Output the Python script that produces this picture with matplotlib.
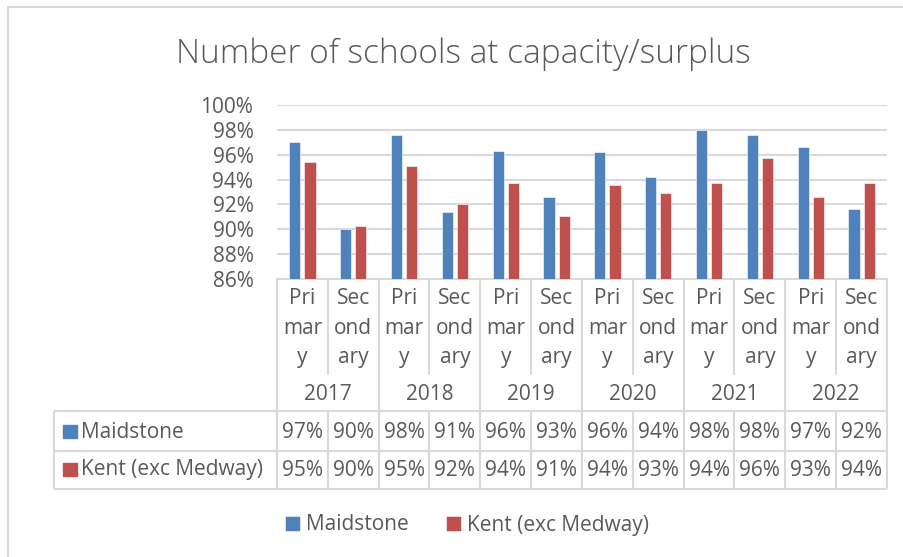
import matplotlib
matplotlib.use("Agg")
import matplotlib.pyplot as plt
from matplotlib.patches import Rectangle
import numpy as np

plt.rcParams['font.family'] = ['Open Sans', 'DejaVu Sans']

years = ['2017', '2018', '2019', '2020', '2021', '2022']
phases = ['Primary', 'Secondary']
series_names = ['Maidstone', 'Kent (exc Medway)']
maidstone = [97.0, 90.0, 97.6, 91.4, 96.3, 92.6, 96.2, 94.2, 98.0, 97.6, 96.6, 91.6]
kent = [95.4, 90.3, 95.1, 92.0, 93.7, 91.1, 93.6, 92.9, 93.7, 95.7, 92.6, 93.7]
colors = ['#4F81BD', '#C0504D']
text_col = '#595959'
grid_col = '#D9D9D9'

W, H = 904, 557
fig = plt.figure(figsize=(W / 100, H / 100), dpi=100)

# pixel-space overlay for the data table and border
L, R, TOP, BOT = 277, 887, 105, 279
over = fig.add_axes([0, 0, 1, 1])
over.set_xlim(0, W)
over.set_ylim(H, 0)
over.axis('off')

ax = fig.add_axes([L / W, 1 - BOT / H, (R - L) / W, (BOT - TOP) / H])
ax.patch.set_alpha(0)

n = len(maidstone)
x = np.arange(n)
bw, off = 0.22, 0.15
for vals, c, name in zip([maidstone, kent], colors, series_names):
    pos = x - off if c == colors[0] else x + off
    ax.bar(pos, np.array(vals) - 86, bottom=86, width=bw, color=c,
           edgecolor='white', linewidth=0.4, label=name, zorder=3)

ax.set_xlim(-0.5, n - 0.5)
ax.set_ylim(86, 100)
ax.set_yticks(np.arange(86, 101, 2))
ax.set_yticklabels([f'{v}%' for v in range(86, 101, 2)])
ax.set_xticks([])
ax.tick_params(axis='y', length=0, pad=17, labelsize=15, labelcolor=text_col)
ax.yaxis.grid(True, color=grid_col, linewidth=1.5, zorder=0)
for s in ['top', 'right', 'left']:
    ax.spines[s].set_visible(False)
ax.spines['bottom'].set_color(grid_col)
ax.spines['bottom'].set_linewidth(1.5)

over.text(463, 63, 'Number of schools at capacity/surplus',
          ha='center', va='baseline', fontsize=24, color=text_col,
          fontweight='light')

# data table
cw = (R - L) / n
lw = 1.5
row1, row2, row3 = 411, 451, 489
tl = 54
kw = dict(color=grid_col, linewidth=lw, solid_capstyle='butt')
for yy in [row1, row2, row3]:
    over.plot([tl, R], [yy, yy], **kw)
over.plot([tl, tl], [row1, row3], **kw)
for i in range(n + 1):
    xx = L + i * cw
    if i % 2 == 0:
        over.plot([xx, xx], [BOT, row3], **kw)
    else:
        over.plot([xx, xx], [BOT, 375], **kw)
        over.plot([xx, xx], [row1, row3], **kw)

for i in range(n):
    cx = L + (i + 0.5) * cw
    word = phases[i % 2]
    parts = [word[k:k + 3] for k in range(0, len(word), 3)]
    for j, p in enumerate(parts):
        over.text(cx, 298 + j * 30, p, ha='center', va='center',
                  fontsize=15, color=text_col)
    over.text(cx, 432, f'{round(maidstone[i])}%', ha='center', va='center',
              fontsize=15, color=text_col)
    over.text(cx, 470, f'{round(kent[i])}%', ha='center', va='center',
              fontsize=15, color=text_col)
for j, yr in enumerate(years):
    over.text(L + (2 * j + 1) * cw, 394, yr, ha='center', va='center',
              fontsize=15, color=text_col)

for yy, c, name in zip([432, 470], colors, series_names):
    over.add_patch(Rectangle((63, yy - 7), 14, 13, color=c))
    over.text(81, yy, name, ha='left', va='center', fontsize=15, color=text_col)

# outer chart border (cropped on right and bottom)
over.plot([8.5, 8.5, W + 5], [H + 5, 6.5, 6.5], color=grid_col, linewidth=1.5)

handles, labels = ax.get_legend_handles_labels()
fig.legend(handles, labels, loc='center', ncol=2, frameon=False,
           bbox_to_anchor=(467 / W, 1 - 525 / H), fontsize=15,
           labelcolor=text_col, handlelength=0.7, handleheight=0.7,
           handletextpad=0.3, columnspacing=1.8)

fig.savefig('out.png', dpi=100)
